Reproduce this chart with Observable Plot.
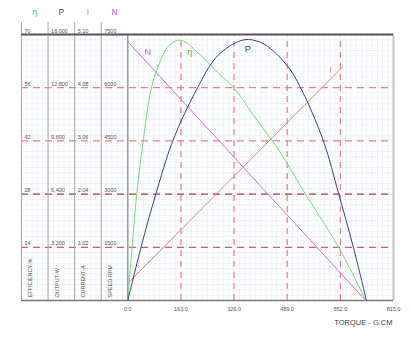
<!DOCTYPE html>
<html><head><meta charset="utf-8">
<script src="https://cdn.jsdelivr.net/npm/d3@7"></script>
<script src="https://cdn.jsdelivr.net/npm/@observablehq/plot@0.6"></script>
<style>body{margin:0;background:#fff}</style>
</head><body><div id="chart"></div>
<script>
// ---- axis / table values ----
const torqueTicks = [0, 163, 326, 489, 652, 815];
const efficiencyTicks = [14, 28, 42, 56, 70];
const outputLabels = ["3.200", "6.400", "9.600", "12.800", "16.000"];
const currentLabels = ["1.02", "2.04", "3.06", "4.08", "5.10"];
const speedLabels = ["1500", "3000", "4500", "6000", "7500"];
const efficiencyLabels = ["14", "28", "42", "56", "70"];
const columnSymbols = ["η", "P", "I", "N"];
const columnTitles = ["EFFICIENCY-%", "OUTPUT-W", "CURRENT-A", "SPEED-RPM"];
const columnMax = [70, 16, 5.1, 7500];

// ---- series (torque g.cm -> value) ----
const effTorque = [0, 15, 30, 46, 70, 95, 125, 162, 218, 276, 325, 400, 460, 545, 647, 730];
const effValue  = [0, 16, 30, 41, 55, 62, 67, 68.5, 65, 60, 56, 47, 40, 28, 14, 0];

const powTorque = [0, 46, 86, 138, 214, 270, 330, 370, 420, 490, 530, 600, 647, 692, 732];
const powValue  = [0, 3.6, 6.4, 9.6, 12.8, 14.6, 15.5, 15.7, 15.4, 14.1, 12.8, 9.6, 6.4, 3.2, 0];

const curTorque = [0, 659];
const curValue  = [0.33, 4.48];

const spdTorque = [0, 730];
const spdValue  = [7300, 0];

// curve label anchors (torque, value in own units)
const curveLabels = [
  {name: "N", torque: 61, value: 7000, col: 3},
  {name: "η", torque: 190, value: 65.3, col: 0},
  {name: "P", torque: 368, value: 15.1, col: 1},
  {name: "I", torque: 622, value: 4.42, col: 2}
];

// ---- build tables scaled onto the common 0..70 grid ----
const toGrid = (v, col) => v / columnMax[col] * columnMax[0];
const effData = effTorque.map((t, i) => ({t, y: toGrid(effValue[i], 0)}));
const powData = powTorque.map((t, i) => ({t, y: toGrid(powValue[i], 1)}));
const curData = curTorque.map((t, i) => ({t, y: toGrid(curValue[i], 2)}));
const spdData = spdTorque.map((t, i) => ({t, y: toGrid(spdValue[i], 3)}));

const colWidth = torqueTicks[1] / 2;
const xMin = -4 * colWidth;
const colLeft = [0, 1, 2, 3].map(i => xMin + i * colWidth);
const tableLabels = [efficiencyLabels, outputLabels, currentLabels, speedLabels];
const rowText = [];
tableLabels.forEach((labs, c) => labs.forEach((s, r) => rowText.push({x: colLeft[c], y: efficiencyTicks[r], s})));

const minorX = d3.range(0, 70 + 1).map(i => xMin + i * torqueTicks[1] / 10);
const minorY = d3.range(0, 51).map(i => i * efficiencyTicks[0] / 10);

const seriesColor = {η: "#72dc72", P: "#3c3c9c", I: "#d4878f", N: "#d070d0"};
const symbolColor = {η: "#3fc43f", P: "#3c3cb0", I: "#e77fa0", N: "#cc55dd"};
const labelColor = {η: "#2ec82e", P: "#4646b4", I: "#cf8a8a", N: "#d060d8"};

const rowStroke = v => v === 28 ? "#a8384e" : v === 14 ? "#cc6070" : "#e6848a";

const chart = Plot.plot({
  width: 412, height: 342,
  marginLeft: 21, marginRight: 19, marginTop: 34, marginBottom: 42,
  style: {fontFamily: "'Liberation Sans', Arial, sans-serif", background: "#fff"},
  x: {domain: [xMin, torqueTicks[5]]},
  y: {domain: [0, 70], axis: null},
  marks: [
    Plot.ruleX(minorX, {stroke: "#eef2f7", strokeWidth: 1}),
    Plot.ruleY(minorY, {stroke: "#eef2f7", strokeWidth: 1}),
    Plot.ruleX(torqueTicks.slice(1, 5), {y1: 0, y2: 70, stroke: "#e48896", strokeWidth: 1.3, strokeDasharray: "6,5"}),
    Plot.ruleY(efficiencyTicks.slice(0, 4), {stroke: rowStroke, strokeWidth: 1.3, strokeDasharray: "7,5"}),
    Plot.ruleX(colLeft, {stroke: "#a8a8a8", strokeWidth: 1, insetTop: -12}),
    Plot.ruleX([0], {stroke: "#999", strokeWidth: 1.5}),
    Plot.ruleX([torqueTicks[5]], {stroke: "#c4c4c4", strokeWidth: 2}),
    Plot.ruleY([70], {stroke: "#555", strokeWidth: 2}),
    Plot.ruleY([0], {stroke: "#777", strokeWidth: 1.5}),
    Plot.line(curData, {x: "t", y: "y", stroke: seriesColor.I, strokeWidth: 1}),
    Plot.line(spdData, {x: "t", y: "y", stroke: seriesColor.N, strokeWidth: 1}),
    Plot.line(effData, {x: "t", y: "y", stroke: seriesColor["η"], strokeWidth: 1, curve: "catmull-rom"}),
    Plot.line(powData, {x: "t", y: "y", stroke: seriesColor.P, strokeWidth: 1, curve: "catmull-rom"}),
    Plot.text(curveLabels, {x: "torque", y: d => toGrid(d.value, d.col), text: "name", fill: d => labelColor[d.name], fontSize: 9, fontWeight: d => d.name === "η" ? "bold" : "normal"}),
    Plot.text(rowText, {x: "x", y: "y", text: "s", dx: 3, dy: -2, textAnchor: "start", lineAnchor: "bottom", fontSize: 5.5, fill: "#555"}),
    Plot.text(columnSymbols, {x: (d, i) => colLeft[i] + colWidth / 2, y: 70, text: d => d, dy: -22, fontSize: 8.5, fill: d => symbolColor[d]}),
    Plot.text(columnTitles, {x: (d, i) => colLeft[i], y: 0, text: d => d, dx: 9, dy: -3, rotate: -90, textAnchor: "start", fontSize: 5.5, fill: "#555"}),
    Plot.axisX({ticks: torqueTicks, tickFormat: d => d.toFixed(1), tickSize: 0, tickPadding: 7, fontSize: 5.5, fill: "#555", label: null}),
    Plot.text(["TORQUE - G.CM"], {frameAnchor: "bottom-right", text: d => d, dx: -1, dy: 24, textAnchor: "end", fontSize: 7.5, fill: "#444"})
  ]
});
document.getElementById("chart").append(chart);
</script>
</body></html>
